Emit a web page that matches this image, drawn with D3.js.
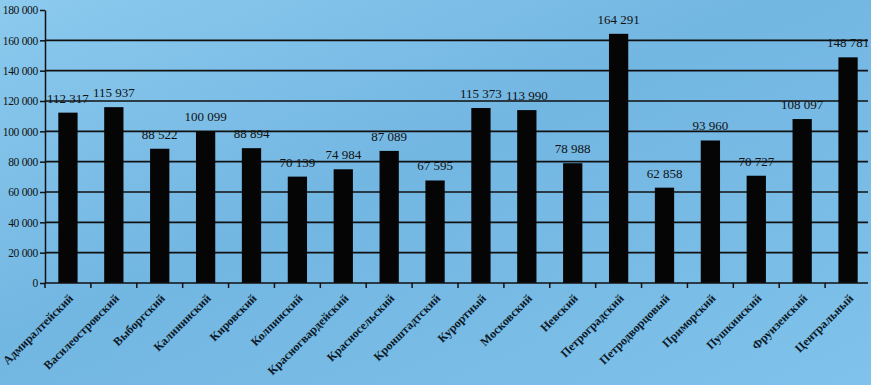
<!DOCTYPE html>
<html lang="ru">
<head>
<meta charset="UTF-8">
<title>Районы</title>
<style>
  body { margin: 0; background: #7bbde6; }
  svg { display: block; }
  .axis text { font-family: "Liberation Serif", "DejaVu Serif", serif; fill: #111; }
  .axis path, .axis line { stroke: #111; stroke-width: 1.5px; }
  .grid line { stroke: #111; stroke-width: 1.6px; }
  .bar { fill: #050505; }
  .val { font-family: "Liberation Serif", serif; font-size: 13px; fill: #111; text-anchor: middle; }
  .xlab { font-family: "Liberation Serif", serif; font-size: 12px; font-weight: bold; fill: #0d1a28; }
</style>
</head>
<body>
<script src="https://d3js.org/d3.v7.min.js"></script>
<script>
const districts = ['Адмиралтейский', 'Василеостровский', 'Выборгский', 'Калининский', 'Кировский',
  'Колпинский', 'Красногвардейский', 'Красносельский', 'Кронштадтский', 'Курортный', 'Московский',
  'Невский', 'Петроградский', 'Петродворцовый', 'Приморский', 'Пушкинский', 'Фрунзенский', 'Центральный']
const values = [112317, 115937, 88522, 100099, 88894, 70139, 74984, 87089, 67595, 115373, 113990,
  78988, 164291, 62858, 93960, 70727, 108097, 148781]
const yTicks = [0, 20000, 40000, 60000, 80000, 100000, 120000, 140000, 160000, 180000]

const width = 871, height = 385
const margin = {top: 10, right: 0, bottom: 102, left: 45}
const fmt = n => d3.format(',')(n).replace(/,/g, ' ')

const svg = d3.select('body').append('svg')
  .attr('width', width)
  .attr('height', height)

// paper background, slightly uneven like the photo
const defs = svg.append('defs')
const grad = defs.append('linearGradient').attr('id', 'bg')
  .attr('x1', 0).attr('y1', 0).attr('x2', 1).attr('y2', 1)
grad.append('stop').attr('offset', '0%').attr('stop-color', '#8ccaee')
grad.append('stop').attr('offset', '45%').attr('stop-color', '#72b6e2')
grad.append('stop').attr('offset', '100%').attr('stop-color', '#7fc2ea')
svg.append('rect').attr('width', width).attr('height', height).attr('fill', 'url(#bg)')

const g = svg.append('g').attr('transform', `translate(${margin.left},${margin.top})`)
const w = width - margin.left - margin.right
const h = height - margin.top - margin.bottom

const x = d3.scaleBand().domain(districts).range([0, w]).paddingInner(0.58).paddingOuter(0.29)
const y = d3.scaleLinear().domain([0, 180000]).range([h, 0])

g.append('g').attr('class', 'grid')
  .selectAll('line').data(yTicks.filter(d => d > 0 && d < 180000)).join('line')
  .attr('x1', 0).attr('x2', w - 3)
  .attr('y1', d => y(d)).attr('y2', d => y(d))

g.selectAll('.bar').data(values).join('rect')
  .attr('class', 'bar')
  .attr('x', (d, i) => x(districts[i]))
  .attr('width', x.bandwidth())
  .attr('y', d => y(d))
  .attr('height', d => h - y(d))

g.selectAll('.val').data(values).join('text')
  .attr('class', 'val')
  .attr('x', (d, i) => x(districts[i]) + x.bandwidth() / 2)
  .attr('y', d => y(d) - 10)
  .text(fmt)

const yAxis = g.append('g').attr('class', 'axis')
  .call(d3.axisLeft(y).tickValues(yTicks).tickSize(5).tickSizeOuter(0).tickFormat(fmt))
yAxis.selectAll('text').attr('font-size', 11.5).attr('x', -7).attr('letter-spacing', -0.3)

// x axis: ticks at band boundaries
const step = x.step()
const xAxis = g.append('g').attr('class', 'axis').attr('transform', `translate(0,${h})`)
xAxis.append('line').attr('x1', 0).attr('x2', w - 3)
xAxis.selectAll('.tk').data(d3.range(districts.length)).join('line')
  .attr('class', 'tk')
  .attr('x1', i => i * step).attr('x2', i => i * step)
  .attr('y1', 0).attr('y2', 5)

g.selectAll('.xlab').data(districts).join('text')
  .attr('class', 'xlab')
  .attr('text-anchor', 'end')
  .attr('transform', d => `translate(${x(d) + x.bandwidth() / 2 + 6},${h + 16}) rotate(-45)`)
  .text(d => d)
</script>
</body>
</html>
